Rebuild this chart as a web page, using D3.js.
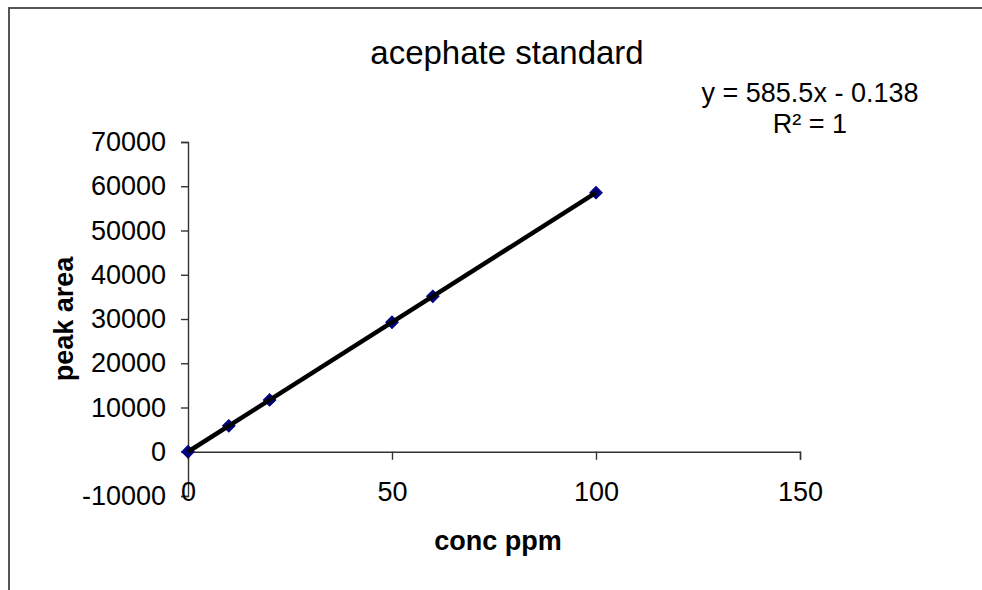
<!DOCTYPE html>
<html><head><meta charset="utf-8">
<script src="https://cdn.jsdelivr.net/npm/d3@7"></script>
<style>html,body{margin:0;padding:0;background:#fff;}svg{display:block;}</style>
</head><body>
<svg id="c" width="982" height="590"></svg>
<script>
const concPpm = [0, 10, 20, 50, 60, 100];
const peakArea = [0, 5850, 11720, 29280, 35120, 58550];
const xTicks = [0, 50, 100, 150];
const yTicks = [-10000, 0, 10000, 20000, 30000, 40000, 50000, 60000, 70000];
const titleText = "acephate standard";
const xTitle = "conc ppm";
const yTitle = "peak area";
const eqLines = ["y = 585.5x - 0.138", "R\u00B2 = 1"];

const svg = d3.select("#c");
const FONT = "'Liberation Sans', Arial, sans-serif";

// chart frame (extends past right and bottom edges as in the reference)
svg.append("rect").attr("x", 9).attr("y", 8).attr("width", 1100).attr("height", 700)
  .attr("fill", "#fff").attr("stroke", "#444").attr("stroke-width", 1.8);

const x = d3.scaleLinear().domain([0, 150]).range([188, 800]);
const y = d3.scaleLinear().domain([-10000, 70000]).range([496, 142]);

const yAxis = svg.append("g").attr("transform", `translate(${x(0)},0)`)
  .call(d3.axisLeft(y).tickValues(yTicks).tickSize(7).tickPadding(15).tickFormat(d => String(d)));
const xAxis = svg.append("g").attr("transform", `translate(0,${y(0)})`)
  .call(d3.axisBottom(x).tickValues(xTicks).tickSize(8).tickPadding(22).tickFormat(d => String(d)));

[yAxis, xAxis].forEach(g => {
  g.select(".domain").attr("stroke", "#333").attr("stroke-width", 1.4);
  g.selectAll(".tick line").attr("stroke", "#333").attr("stroke-width", 1.4);
  g.selectAll(".tick text").attr("font-family", FONT).attr("font-size", 27).attr("fill", "#000");
});
xAxis.selectAll(".tick line").filter(d => d === 0).remove();

// data markers
const pts = concPpm.map((c, i) => ({c, a: peakArea[i]}));
svg.append("g").selectAll("path").data(pts).join("path")
  .attr("d", d3.symbol(d3.symbolSquare, 78))
  .attr("transform", d => `translate(${x(d.c)},${y(d.a)}) rotate(45)`)
  .attr("fill", "#000080").attr("stroke", "#000080").attr("stroke-width", 1);

// linear trendline (least squares through the data)
const mx = d3.mean(concPpm), my = d3.mean(peakArea);
const slope = d3.sum(pts, d => (d.c - mx) * (d.a - my)) / d3.sum(pts, d => (d.c - mx) ** 2);
const icpt = my - slope * mx;
const ext = d3.extent(concPpm);
svg.append("path")
  .datum(ext.map(c => [c, slope * c + icpt]))
  .attr("d", d3.line().x(d => x(d[0])).y(d => y(d[1])))
  .attr("stroke", "#000").attr("stroke-width", 4.5).attr("fill", "none");

// titles
svg.append("text").attr("x", 507).attr("y", 64).attr("text-anchor", "middle")
  .attr("font-family", FONT).attr("font-size", 33).text(titleText);
svg.append("text").attr("x", 498).attr("y", 550).attr("text-anchor", "middle")
  .attr("font-family", FONT).attr("font-size", 27).attr("font-weight", "bold").text(xTitle);
svg.append("text").attr("transform", "translate(73,319) rotate(-90)").attr("text-anchor", "middle")
  .attr("font-family", FONT).attr("font-size", 27).attr("font-weight", "bold").text(yTitle);

svg.append("g").selectAll("text").data(eqLines).join("text")
  .attr("x", 810).attr("y", (d, i) => 102 + i * 31).attr("text-anchor", "middle")
  .attr("font-family", FONT).attr("font-size", 27).text(d => d);
</script>
</body></html>
